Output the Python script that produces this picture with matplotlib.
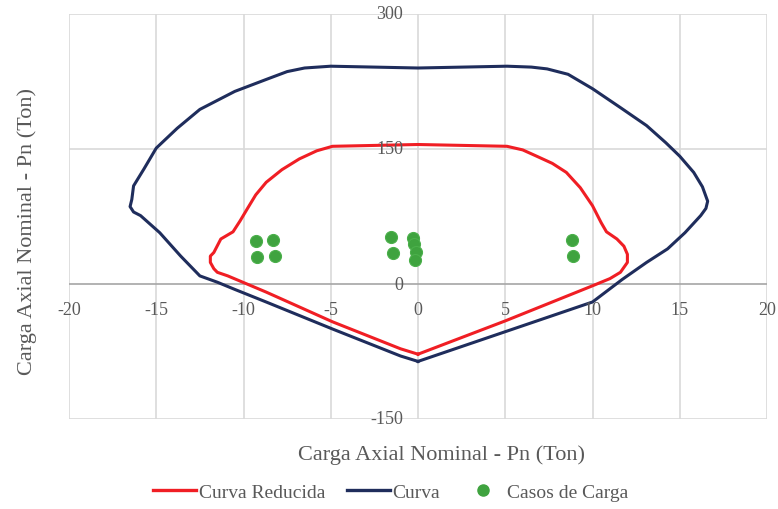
import matplotlib
matplotlib.use("Agg")
import matplotlib.pyplot as plt
from matplotlib.lines import Line2D

# Interaction diagram: moment (x) vs nominal axial load (y)
curva_x = [0.0, -1.0, -4.9, -8.7, -10.5, -11.5, -12.5, -13.6, -14.8, -15.9,
           -16.3, -16.5, -16.4, -16.3, -15.7, -15.0, -13.8, -12.5, -10.5, -8.6,
           -7.5, -6.5, -5.0, 0.0, 5.1, 6.5, 7.4, 8.6, 10.0, 11.6, 13.1, 14.2,
           15.0, 15.8, 16.3, 16.6, 16.5, 16.2, 15.3, 14.3, 13.1, 11.7, 10.0,
           5.0, 0.0]
curva_y = [-86, -80, -50, -20, -6, 2, 9, 31, 57, 76, 80, 86, 94, 109, 128,
           151, 173, 194, 214, 228, 236, 240, 242, 240, 242, 241, 239, 233,
           217, 196, 176, 157, 142, 124, 108, 92, 84, 76, 57, 39, 24, 5,
           -20, -53, -86]

reducida_x = [0.0, -1.0, -4.9, -8.7, -10.9, -11.5, -11.7, -11.9, -11.9, -11.7,
              -11.3, -10.6, -10.2, -9.8, -9.3, -8.7, -7.8, -6.8, -5.8, -4.9,
              0.0, 5.1, 6.0, 6.8, 7.7, 8.5, 9.3, 10.0, 10.5, 10.8, 11.4, 11.8,
              12.0, 12.0, 11.6, 11.0, 10.0, 5.0, 0.0]
reducida_y = [-78, -72, -42, -9, 9, 13, 17, 24, 31, 35, 50, 58, 70, 83, 99,
              113, 127, 139, 148, 153, 155, 153, 149, 142, 134, 124, 107, 87,
              68, 58, 50, 42, 33, 24, 13, 6, -2, -41, -78]

casos_x = [-9.3, -8.3, -9.2, -8.2, -1.55, -1.45, -0.3, -0.25, -0.1, -0.2, 8.8, 8.9]
casos_y = [48, 49, 30, 31, 52, 34, 51, 44, 36, 27, 49, 31]

x_ticks = [-20, -15, -10, -5, 0, 5, 10, 15, 20]
y_ticks = [-150, 0, 150, 300]

plt.rcParams['font.family'] = ['Liberation Serif', 'DejaVu Serif']
text_color = '#595959'
grid_color = '#d9d9d9'

fig = plt.figure(figsize=(7.78, 5.10), dpi=100)
ax = fig.add_axes([69 / 778, 90 / 510, 698 / 778, 405 / 510])

ax.set_xlim(-20, 20)
ax.set_ylim(-150, 300)

for xv in x_ticks:
    ax.axvline(xv, color=grid_color, lw=1.2, zorder=0)
for yv in y_ticks:
    if yv != 0:
        ax.axhline(yv, color=grid_color, lw=1.2, zorder=0)
ax.axhline(0, color='#a6a6a6', lw=1.2, zorder=1)

ax.plot(reducida_x, reducida_y, color='#f01e24', lw=2.2, zorder=3,
        solid_joinstyle='round')
ax.plot(curva_x, curva_y, color='#1f2d5c', lw=2.2, zorder=3,
        solid_joinstyle='round')
ax.scatter(casos_x, casos_y, s=75, color='#3fa33f', edgecolors='#4bb04b',
           linewidths=0.8, zorder=4)

for s in ax.spines.values():
    s.set_visible(False)
ax.set_xticks([])
ax.set_yticks([])

# Tick labels sit next to the axes that cross at the origin
for xv in x_ticks:
    ax.annotate(str(xv), xy=(xv, 0), xytext=(0, -17), textcoords='offset pixels',
                ha='center', va='top', fontsize=13, color=text_color)
for yv in y_ticks:
    ax.annotate(str(yv), xy=(0, yv), xytext=(-15, 0), textcoords='offset pixels',
                ha='right', va='center', fontsize=13, color=text_color)

fig.text(442 / 778, 1 - 455 / 510, 'Carga Axial Nominal - Pn (Ton)',
         ha='center', va='center', fontsize=16, color=text_color)
fig.text(27 / 778, 1 - 232 / 510, 'Carga Axial Nominal - Pn (Ton)',
         ha='center', va='center', rotation=90, fontsize=16, color=text_color)

handles = [Line2D([], [], color='#f01e24', lw=2.4),
           Line2D([], [], color='#1f2d5c', lw=2.4),
           Line2D([], [], color='#3fa33f', marker='o', ls='none', markersize=8)]
leg = fig.legend(handles, ['Curva Reducida', 'Curva', 'Casos de Carga'],
                 loc='center', bbox_to_anchor=(391 / 778, 1 - 493 / 510),
                 ncol=3, frameon=False, fontsize=14, handlelength=2.2,
                 handletextpad=0.15, columnspacing=1.1)
for t in leg.get_texts():
    t.set_color(text_color)

fig.savefig('out.png', dpi=100)
